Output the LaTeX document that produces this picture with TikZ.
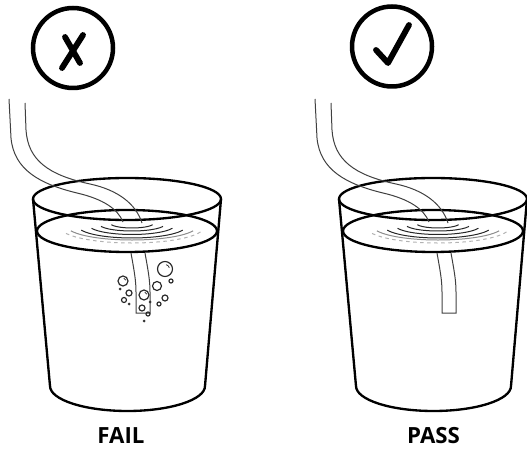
\documentclass[tikz,border=0pt]{standalone}
\usepackage{fontspec}
\setsansfont{Open Sans}
\usetikzlibrary{calc}
\def\bubble(#1,#2)(#3){\draw[bubble] (#1,#2) circle (#3);}
\def\shinybubble(#1,#2)(#3){\draw[bubble] (#1,#2) circle (#3); \draw[bubble, line width=0.22mm] ($(#1,#2)+(-75:{0.6*#3})$) arc (-75:-15:{0.6*#3});}
\def\fizz(#1,#2){\fill[black!80] (#1,#2) circle (1.5);}
\def\glass{%
	\draw[rim] (33, 199) -- (50, 386) arc (180:0:77.5 and 25) -- (221, 199);
	\draw[rim] (127, 199) ellipse (94 and 21);
	\draw[rim] (127, 231) ellipse (90 and 21);
	% straw above the water
	\draw[tube] (9, 99) -- (11, 138) .. controls (14, 170) and (40, 184) .. (77, 193) .. controls (103, 199) and (118, 209) .. (123, 222);
	\draw[tube] (25, 103) -- (26, 130) .. controls (28, 160) and (48, 175) .. (90, 184) .. controls (118, 190) and (136, 204) .. (142, 223);
	% ripples round the straw
	\foreach \rx/\ry/\cy in {22/5/223, 33/7/224, 43/9.5/225, 54/12/226}
		\draw[ripple] (132, \cy) ++(20:{\rx} and {\ry}) arc[start angle=20, end angle=160, x radius=\rx, y radius=\ry];
	\draw[ripple, color=black!45] (132, 226) ++(20:65 and 14) arc (20:160:65 and 14);
	\draw[ripple, color=black!30, dashed] (132, 227) ++(18:72 and 16) arc (18:162:72 and 16);
	% straw below the water
	\draw[tube] (131, 253) .. controls (134, 270) and (136, 280) .. (136, 292) -- (136, 313) -- (150, 313) -- (150, 292) .. controls (150, 280) and (148, 270) .. (145, 253);
}

\begin{document}
\begin{tikzpicture}[x=0.3mm, y=-0.3mm,
	rim/.style={line width=0.7mm, line join=round},
	tube/.style={line width=0.3mm, color=black!75},
	ripple/.style={line width=0.3mm, color=black!85},
	bubble/.style={line width=0.35mm, color=black!85},
	icon/.style={line width=1.35mm},
	tick/.style={line width=1.75mm, line cap=round, line join=round},
	verdict/.style={font=\sffamily\bfseries\fontsize{19}{22}\selectfont}]
	\useasboundingbox (0, 0) rectangle (527, 451);
	
	%%%%% LEFT GLASS %%%%%
	\glass
	
	\shinybubble(165, 269)(7.5)
	\shinybubble(123, 281)(5)
	\shinybubble(144, 295)(5)
	\bubble(157, 286)(4.5)
	\bubble(129, 293)(3)
	\bubble(124, 300)(2.5)
	\bubble(142, 308)(3)
	\bubble(148, 314)(2)
	\bubble(171, 281)(2)
	\bubble(165, 298)(3)
	\bubble(159, 304)(2)
	\fizz(129, 304)
	\fizz(120, 289)
	\fizz(144, 321)
	\fizz(150, 302)
	
	\draw[icon] (73, 48) circle (40);
	\draw[tick] (62, 68) -- (83, 35);
	\draw[tick] (65, 37) -- (80, 63);
	
	\node[verdict] (fail) at (121, 436) {FAIL};
	
	%%%%% RIGHT GLASS %%%%%
	\begin{scope}[shift={(306, 0)}]
		\glass
	\end{scope}
	
	\draw[icon] (392, 46.5) circle (40);
	\draw[tick] (376, 50) -- (388, 63) -- (409, 25);
	
	\node[verdict] (pass) at (433.5, 436) {PASS};
\end{tikzpicture}
\end{document}
